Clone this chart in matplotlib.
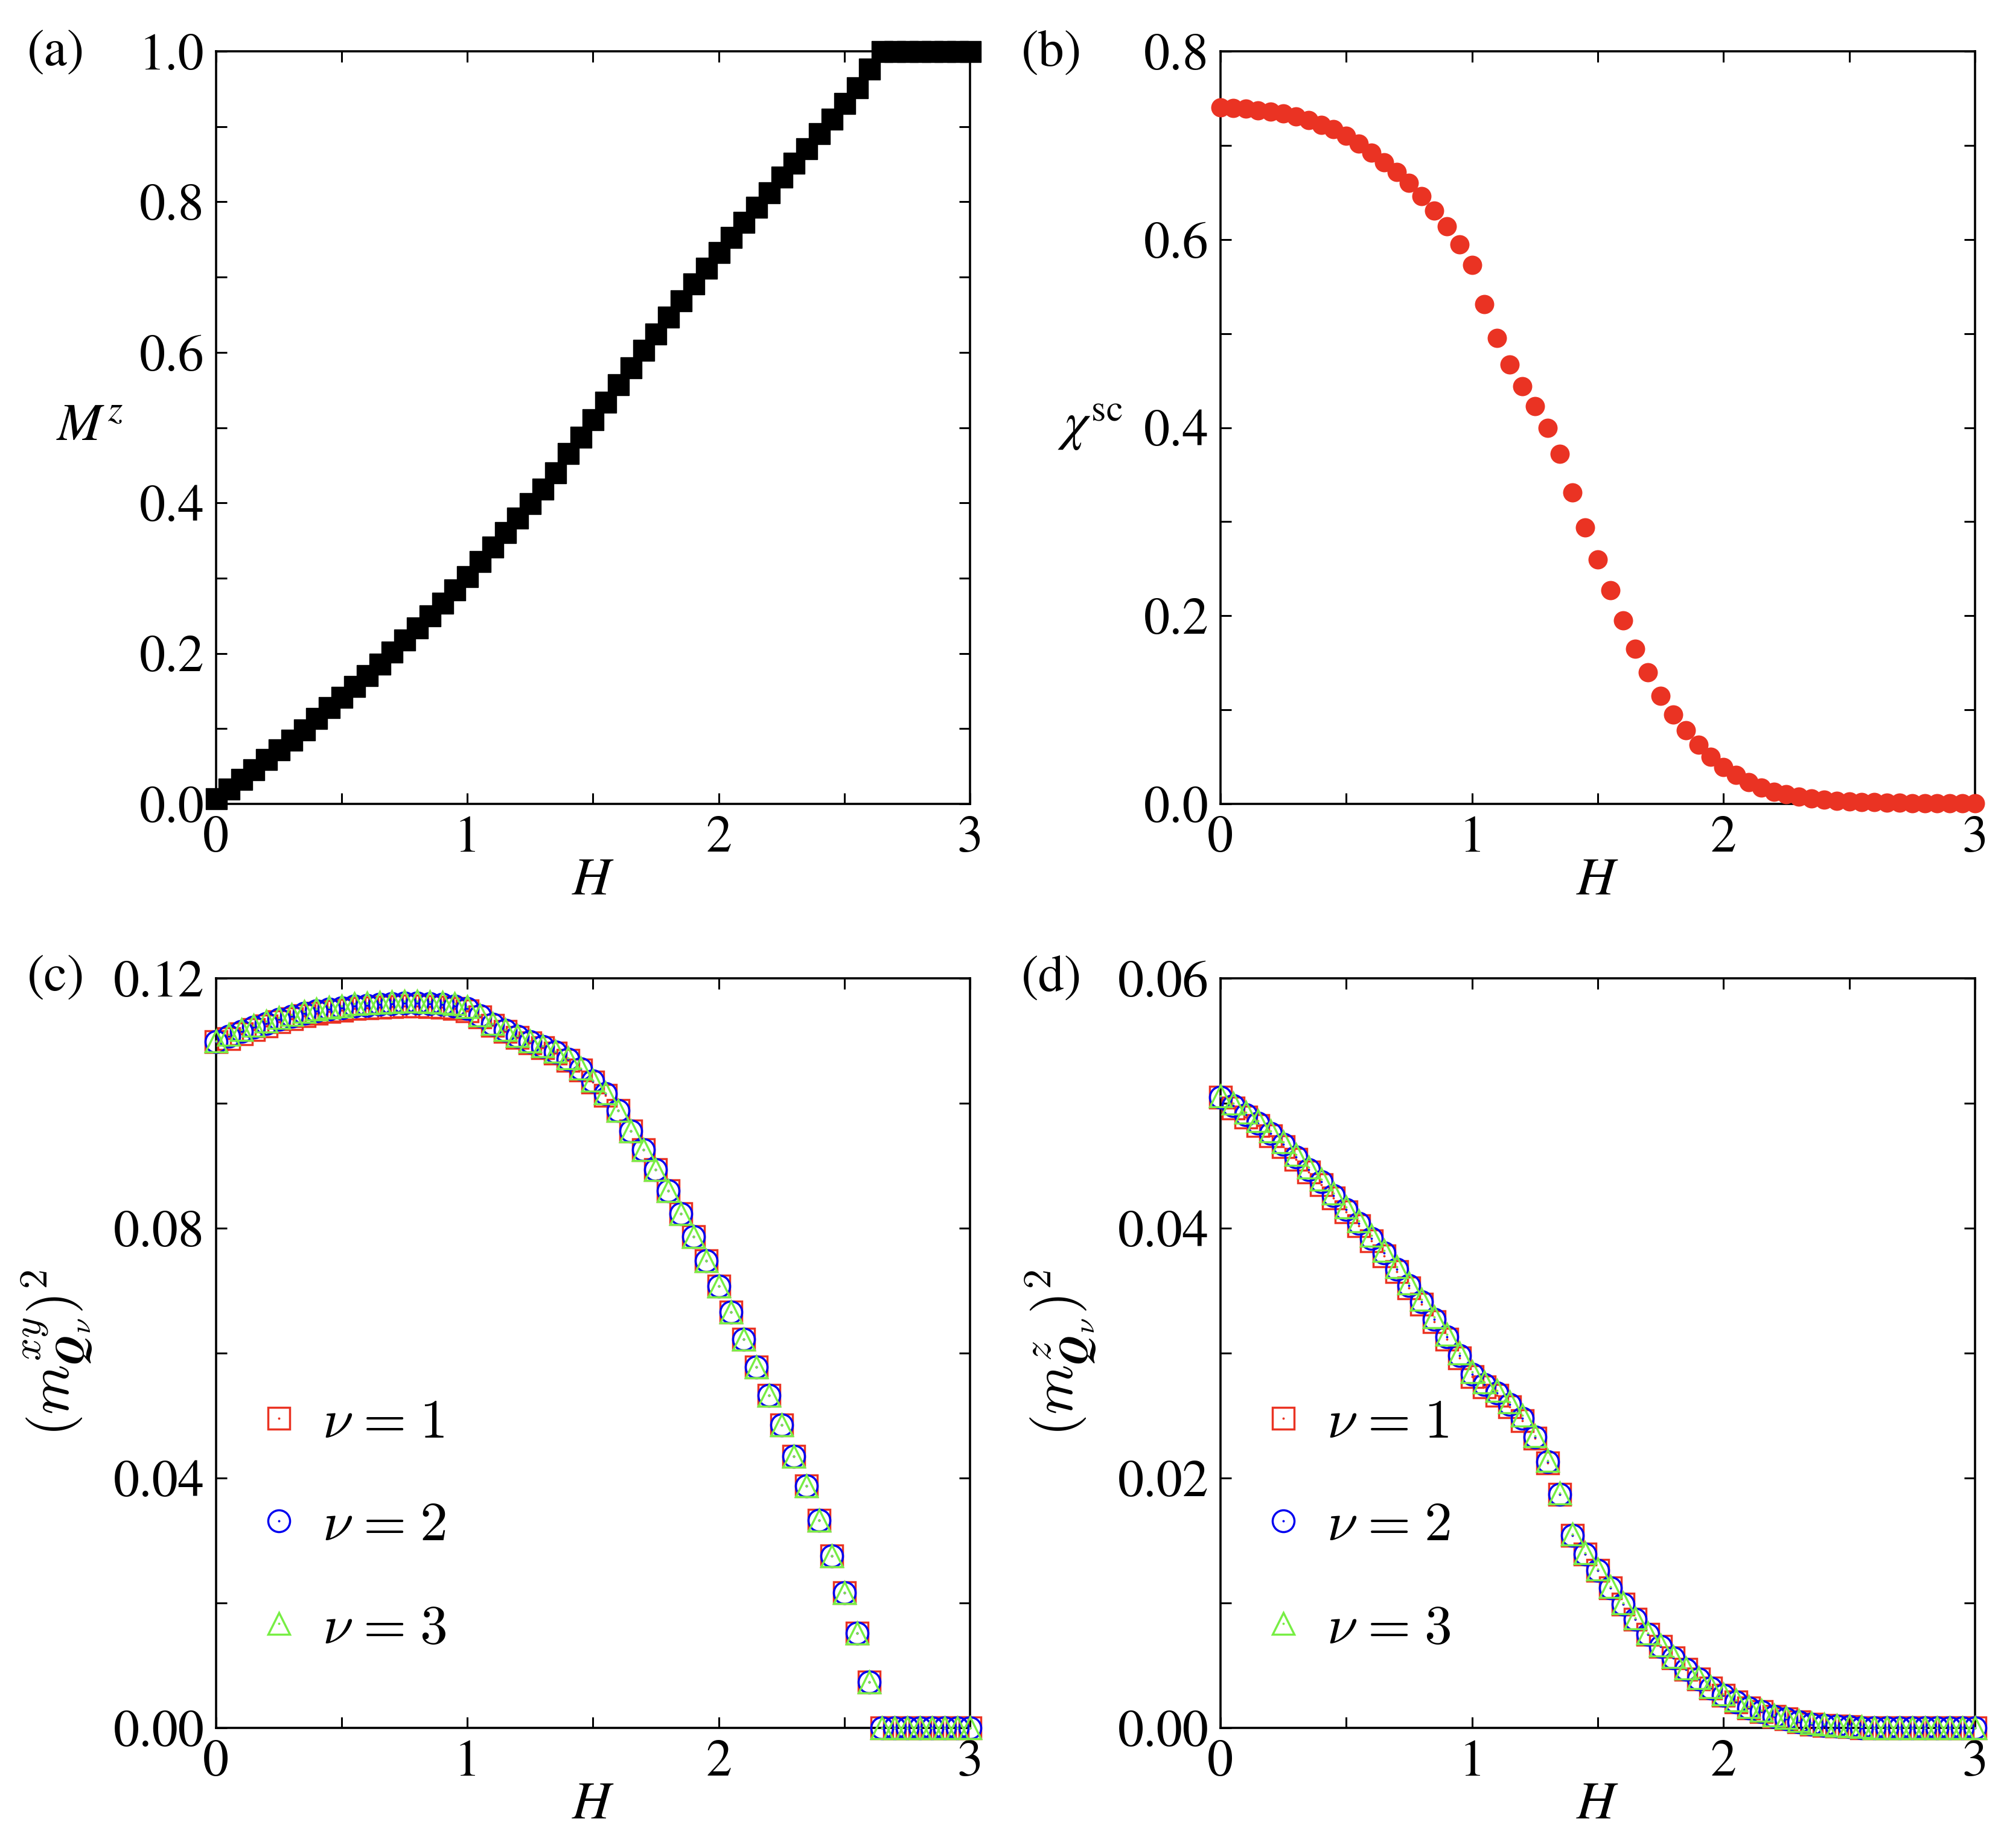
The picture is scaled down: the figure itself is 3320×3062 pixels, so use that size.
import io
import numpy as np
import matplotlib
matplotlib.use("Agg")
import matplotlib.pyplot as plt
from matplotlib.ticker import MultipleLocator, FixedLocator, FixedFormatter
from matplotlib.font_manager import FontProperties

plt.rcParams['font.family'] = ['STIXGeneral', 'DejaVu Serif']
plt.rcParams['mathtext.fontset'] = 'stix'

# ---------------- data ----------------
H = [0.00, 0.05, 0.10, 0.15, 0.20, 0.25, 0.30, 0.35, 0.40, 0.45,
     0.50, 0.55, 0.60, 0.65, 0.70, 0.75, 0.80, 0.85, 0.90, 0.95,
     1.00, 1.05, 1.10, 1.15, 1.20, 1.25, 1.30, 1.35, 1.40, 1.45,
     1.50, 1.55, 1.60, 1.65, 1.70, 1.75, 1.80, 1.85, 1.90, 1.95,
     2.00, 2.05, 2.10, 2.15, 2.20, 2.25, 2.30, 2.35, 2.40, 2.45,
     2.50, 2.55, 2.60, 2.65, 2.70, 2.75, 2.80, 2.85, 2.90, 2.95, 3.00]

Mz = [0.007, 0.020, 0.033, 0.046, 0.059, 0.072, 0.085, 0.099, 0.114, 0.128,
      0.142, 0.156, 0.171, 0.186, 0.202, 0.218, 0.234, 0.250, 0.267, 0.285,
      0.302, 0.322, 0.342, 0.361, 0.380, 0.399, 0.419, 0.440, 0.466, 0.488,
      0.511, 0.534, 0.557, 0.580, 0.603, 0.625, 0.647, 0.669, 0.691, 0.712,
      0.733, 0.753, 0.773, 0.793, 0.8125, 0.833, 0.852, 0.871, 0.891, 0.910,
      0.931, 0.952, 0.977, 1.0, 1.0, 1.0, 1.0, 1.0, 1.0, 1.0, 1.0]

chi_sc = [0.7406, 0.740, 0.739, 0.737, 0.7356, 0.734, 0.7306, 0.727, 0.722, 0.717,
          0.710, 0.702, 0.692, 0.682, 0.672, 0.660, 0.646, 0.631, 0.614, 0.595,
          0.573, 0.531, 0.495, 0.467, 0.444, 0.423, 0.400, 0.372, 0.331, 0.294,
          0.260, 0.227, 0.195, 0.165, 0.140, 0.115, 0.095, 0.078, 0.063, 0.050,
          0.039, 0.031, 0.023, 0.0175, 0.013, 0.010, 0.0075, 0.0056, 0.0044, 0.0030,
          0.0025, 0.0020, 0.0016, 0.0013, 0.0011, 0.0009, 0.0008, 0.0007, 0.0006, 0.0005, 0.0005]

mxy_nu1 = [0.1099, 0.1103, 0.1111, 0.1118, 0.1124, 0.1130, 0.1135, 0.1140, 0.1144, 0.1147,
           0.1149, 0.1152, 0.1153, 0.1154, 0.1155, 0.1156, 0.1156, 0.1155, 0.1154, 0.1152,
           0.1148, 0.1138, 0.1125, 0.1115, 0.1105, 0.1097, 0.1089, 0.1080, 0.1069, 0.1053,
           0.1034, 0.1013, 0.0988, 0.0956, 0.0926, 0.0894, 0.0860, 0.0823, 0.0786, 0.0748,
           0.0707, 0.0666, 0.0622, 0.0578, 0.0532, 0.0485, 0.0435, 0.0387, 0.0332, 0.0275,
           0.0216, 0.0152, 0.0073, 0.0, 0.0, 0.0, 0.0, 0.0, 0.0, 0.0, 0.0]
mxy_nu2 = [0.1099, 0.1107, 0.1115, 0.1122, 0.1128, 0.1134, 0.1139, 0.1144, 0.1148, 0.1151,
           0.1153, 0.1156, 0.1157, 0.1158, 0.1159, 0.1160, 0.1160, 0.1159, 0.1158, 0.1156,
           0.1152, 0.1140, 0.1127, 0.1117, 0.1107, 0.1099, 0.1091, 0.1082, 0.1071, 0.1055,
           0.1036, 0.1015, 0.0988, 0.0956, 0.0926, 0.0894, 0.0860, 0.0823, 0.0786, 0.0748,
           0.0707, 0.0666, 0.0622, 0.0578, 0.0532, 0.0485, 0.0435, 0.0387, 0.0332, 0.0275,
           0.0216, 0.0152, 0.0073, 0.0, 0.0, 0.0, 0.0, 0.0, 0.0, 0.0, 0.0]
mxy_nu3 = [0.1100, 0.1110, 0.1118, 0.1125, 0.1131, 0.1137, 0.1142, 0.1147, 0.1151, 0.1154,
           0.1156, 0.1159, 0.1160, 0.1161, 0.1162, 0.1163, 0.1163, 0.1162, 0.1161, 0.1159,
           0.1155, 0.1141, 0.1128, 0.1118, 0.1108, 0.1100, 0.1092, 0.1083, 0.1072, 0.1056,
           0.1037, 0.1016, 0.0988, 0.0956, 0.0926, 0.0894, 0.0860, 0.0823, 0.0786, 0.0748,
           0.0707, 0.0666, 0.0622, 0.0578, 0.0532, 0.0485, 0.0435, 0.0387, 0.0332, 0.0275,
           0.0216, 0.0152, 0.0073, 0.0, 0.0, 0.0, 0.0, 0.0, 0.0, 0.0, 0.0]

mz_nu1 = [0.0505, 0.0496, 0.0489, 0.0482, 0.0474, 0.0465, 0.0455, 0.0445, 0.0435, 0.0424,
          0.0413, 0.0402, 0.0390, 0.0378, 0.0365, 0.0352, 0.0339, 0.0325, 0.0311, 0.0296,
          0.0281, 0.0273, 0.0266, 0.0257, 0.0246, 0.0232, 0.0212, 0.0187, 0.0154, 0.0139,
          0.0126, 0.0112, 0.0099, 0.0087, 0.0075, 0.0065, 0.0056, 0.0047, 0.0039, 0.0032,
          0.0026, 0.0021, 0.0016, 0.0013, 0.0009, 0.0007, 0.0005, 0.0003, 0.0002, 0.00015,
          0.0001, 0.0, 0.0, 0.0, 0.0, 0.0, 0.0, 0.0, 0.0, 0.0, 0.0]
mz_nu2 = [0.0505, 0.0498, 0.0491, 0.0484, 0.0476, 0.0467, 0.0457, 0.0447, 0.0437, 0.0426,
          0.0415, 0.0404, 0.0392, 0.0380, 0.0367, 0.0354, 0.0341, 0.0327, 0.0313, 0.0298,
          0.0283, 0.0275, 0.0268, 0.0259, 0.0248, 0.0233, 0.0213, 0.0187, 0.0154, 0.0139,
          0.0126, 0.0112, 0.0099, 0.0087, 0.0075, 0.0065, 0.0056, 0.0047, 0.0039, 0.0032,
          0.0026, 0.0021, 0.0016, 0.0013, 0.0009, 0.0007, 0.0005, 0.0003, 0.0002, 0.00015,
          0.0001, 0.0, 0.0, 0.0, 0.0, 0.0, 0.0, 0.0, 0.0, 0.0, 0.0]
mz_nu3 = [0.0506, 0.0500, 0.0493, 0.0486, 0.0478, 0.0469, 0.0459, 0.0449, 0.0439, 0.0428,
          0.0417, 0.0406, 0.0394, 0.0382, 0.0369, 0.0356, 0.0343, 0.0329, 0.0315, 0.0300,
          0.0285, 0.0277, 0.0270, 0.0261, 0.0250, 0.0234, 0.0214, 0.0188, 0.0155, 0.0140,
          0.0127, 0.0113, 0.0100, 0.0088, 0.0076, 0.0066, 0.0057, 0.0048, 0.0040, 0.0033,
          0.0027, 0.0022, 0.0017, 0.0014, 0.0010, 0.0008, 0.0006, 0.0004, 0.0003, 0.0002,
          0.00015, 0.0001, 0.0, 0.0, 0.0, 0.0, 0.0, 0.0, 0.0, 0.0, 0.0]

nu_values = ['1', '2', '3']

# ---------------- style ----------------
RED = '#ea3323'
BLUE = '#0000f0'
GREEN = '#77ee44'
TICK_FS = 31
LAB_FS = 32
LEG_FS = 33

fig = plt.figure(figsize=(16.6, 15.31), dpi=200)
axa = fig.add_axes([0.1078, 0.5650, 0.3762, 0.4072])
axb = fig.add_axes([0.6090, 0.5650, 0.3765, 0.4072])
axc = fig.add_axes([0.1078, 0.0650, 0.3762, 0.4056])
axd = fig.add_axes([0.6090, 0.0650, 0.3765, 0.4056])


def style(ax, ymaj, ymin, ylim, ylabels):
    ax.set_xlim(0, 3)
    ax.set_ylim(*ylim)
    ax.xaxis.set_major_locator(FixedLocator([0, 1, 2, 3]))
    ax.xaxis.set_major_formatter(FixedFormatter(['0', '1', '2', '3']))
    ax.xaxis.set_minor_locator(MultipleLocator(0.5))
    ax.yaxis.set_major_locator(FixedLocator(ymaj))
    ax.yaxis.set_major_formatter(FixedFormatter(ylabels))
    ax.yaxis.set_minor_locator(MultipleLocator(ymin))
    ax.tick_params(which='both', direction='in', top=True, right=True,
                   length=6.5, width=1.1, pad=7, labelsize=TICK_FS)
    for s in ax.spines.values():
        s.set_linewidth(1.3)


def renders(expr):
    try:
        from matplotlib.mathtext import math_to_image
        math_to_image(expr, io.BytesIO(),
                      prop=FontProperties(math_fontfamily='cm', size=12), format='png')
        return True
    except Exception:
        return False


BQ = r'\boldsymbol{Q}' if renders(r'$\boldsymbol{Q}$') else r'\mathbf{Q}'
SP = r'\hspace{0.08}' if renders(r'$a\hspace{0.08}b$') else ''
nu_labels = [r'$\nu%s=%s%s$' % (SP, SP, v) for v in nu_values]

# (a)
axa.plot(H, Mz, ls='none', marker='s', ms=12.6, mfc='black', mec='black', mew=0.5,
         clip_on=False, zorder=3)
style(axa, [0, 0.2, 0.4, 0.6, 0.8, 1.0], 0.1, (0, 1.0), ['0.0', '0.2', '0.4', '0.6', '0.8', '1.0'])
axa.set_ylabel(r'$M^z$', fontsize=LAB_FS, rotation=0, ha='center', va='center')
axa.yaxis.set_label_coords(-0.168, 0.5)

# (b)
axb.plot(H, chi_sc, ls='none', marker='o', ms=11.5, mfc=RED, mec=RED, mew=0,
         clip_on=False, zorder=3)
style(axb, [0, 0.2, 0.4, 0.6, 0.8], 0.1, (0, 0.8), ['0.0', '0.2', '0.4', '0.6', '0.8'])
axb.set_ylabel(r'$\chi^{\mathrm{sc}}$', fontsize=LAB_FS, rotation=0, ha='center', va='center')
axb.yaxis.set_label_coords(-0.173, 0.5)


def open_series(ax, series):
    handles = []
    specs = [('s', RED), ('o', BLUE), ('^', GREEN)]
    for (mk, col), ys in zip(specs, series):
        l1, = ax.plot(H, ys, ls='none', marker=mk, ms=13.0, mfc='none', mec=col, mew=1.25,
                      clip_on=False, zorder=3)
        l2, = ax.plot(H, ys, ls='none', marker='o', ms=1.4, mfc=col, mec=col, mew=0,
                      clip_on=False, zorder=3)
        handles.append((l1, l2))
    leg = ax.legend(handles, nu_labels, loc='center left', bbox_to_anchor=(0.047, 0.268),
                    frameon=False, borderpad=0, borderaxespad=0, handlelength=1.0,
                    handletextpad=0.28, labelspacing=0.94, fontsize=LEG_FS)
    for t in leg.get_texts():
        t.set_math_fontfamily('cm')


# (c)
open_series(axc, [mxy_nu1, mxy_nu2, mxy_nu3])
style(axc, [0, 0.04, 0.08, 0.12], 0.02, (0, 0.12), ['0.00', '0.04', '0.08', '0.12'])
axc.set_ylabel(r'$(m^{xy}_{%s_\nu})^2$' % BQ, fontsize=34, math_fontfamily='cm')
axc.yaxis.set_label_coords(-0.162, 0.5)

# (d)
open_series(axd, [mz_nu1, mz_nu2, mz_nu3])
style(axd, [0, 0.02, 0.04, 0.06], 0.01, (0, 0.06), ['0.00', '0.02', '0.04', '0.06'])
axd.set_ylabel(r'$(m^{z}_{%s_\nu})^2$' % BQ, fontsize=34, math_fontfamily='cm')
axd.yaxis.set_label_coords(-0.162, 0.5)

for ax in (axa, axb, axc, axd):
    ax.set_xlabel(r'$H$', fontsize=LAB_FS)
    ax.xaxis.set_label_coords(0.5, -0.072)

for txt, x, y in [('(a)', 0.0135, 0.971), ('(b)', 0.5095, 0.971),
                  ('(c)', 0.0135, 0.4705), ('(d)', 0.5095, 0.4705)]:
    fig.text(x, y, txt, fontsize=TICK_FS, ha='left', va='center')

fig.savefig('out.png', dpi=200)
